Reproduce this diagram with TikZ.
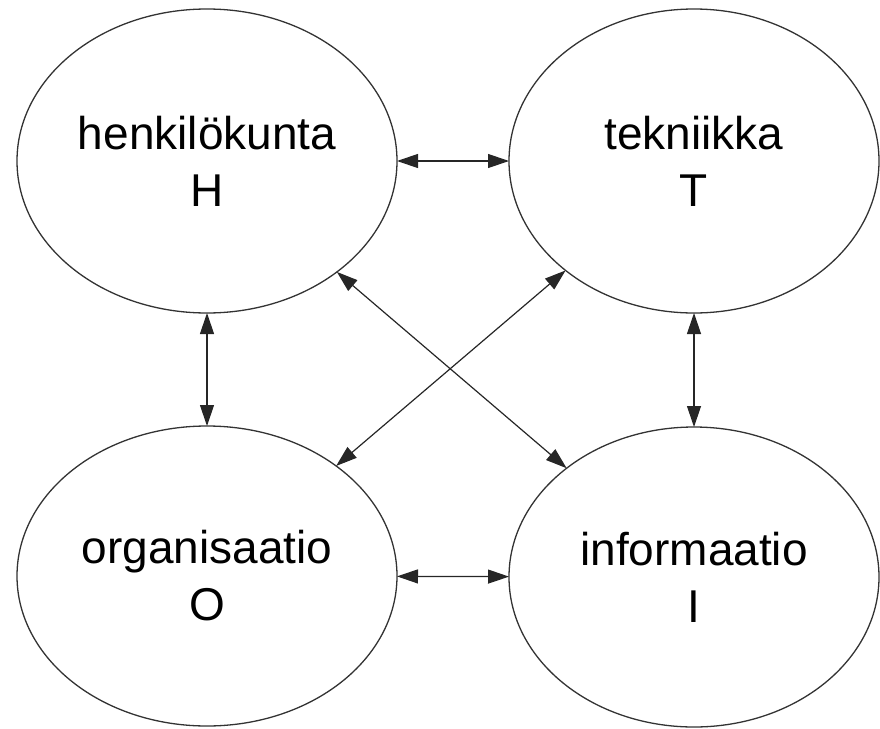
\documentclass[tikz,border=0pt]{standalone}
\usepackage{fontspec}
\setmainfont{Liberation Sans}
\usetikzlibrary{shapes.geometric,arrows.meta}
\begin{document}
\begin{tikzpicture}[x=1pt,y=-1pt,
  area/.style={draw=black!80, line width=1.3pt, ellipse, inner sep=0pt, outer sep=0pt,
    align=center, font=\fontsize{46}{57}\selectfont},
  link/.style={draw=black!85, line width=1.2pt, {Triangle[length=21pt,width=14pt]}-{Triangle[length=21pt,width=14pt]}}]
  \useasboundingbox (0,0) rectangle (880,728);
  % the four areas
  \node[area, minimum width=380pt, minimum height=304pt] (H) at (207,161) {henkilökunta\\H};
  \node[area, minimum width=370pt, minimum height=304pt] (T) at (694,161) {tekniikka\\T};
  \node[area, minimum width=380pt, minimum height=300pt] (O) at (207,576) {organisaatio\\O};
  \node[area, minimum width=370pt, minimum height=300pt] (I) at (694,577) {informaatio\\I};
  % mutual relations
  \draw[link] (H) -- (T);
  \draw[link] (O) -- (I);
  \draw[link] (H) -- (O);
  \draw[link] (T) -- (I);
  \draw[link] (H) -- (I);
  \draw[link] (T) -- (O);
\end{tikzpicture}
\end{document}
